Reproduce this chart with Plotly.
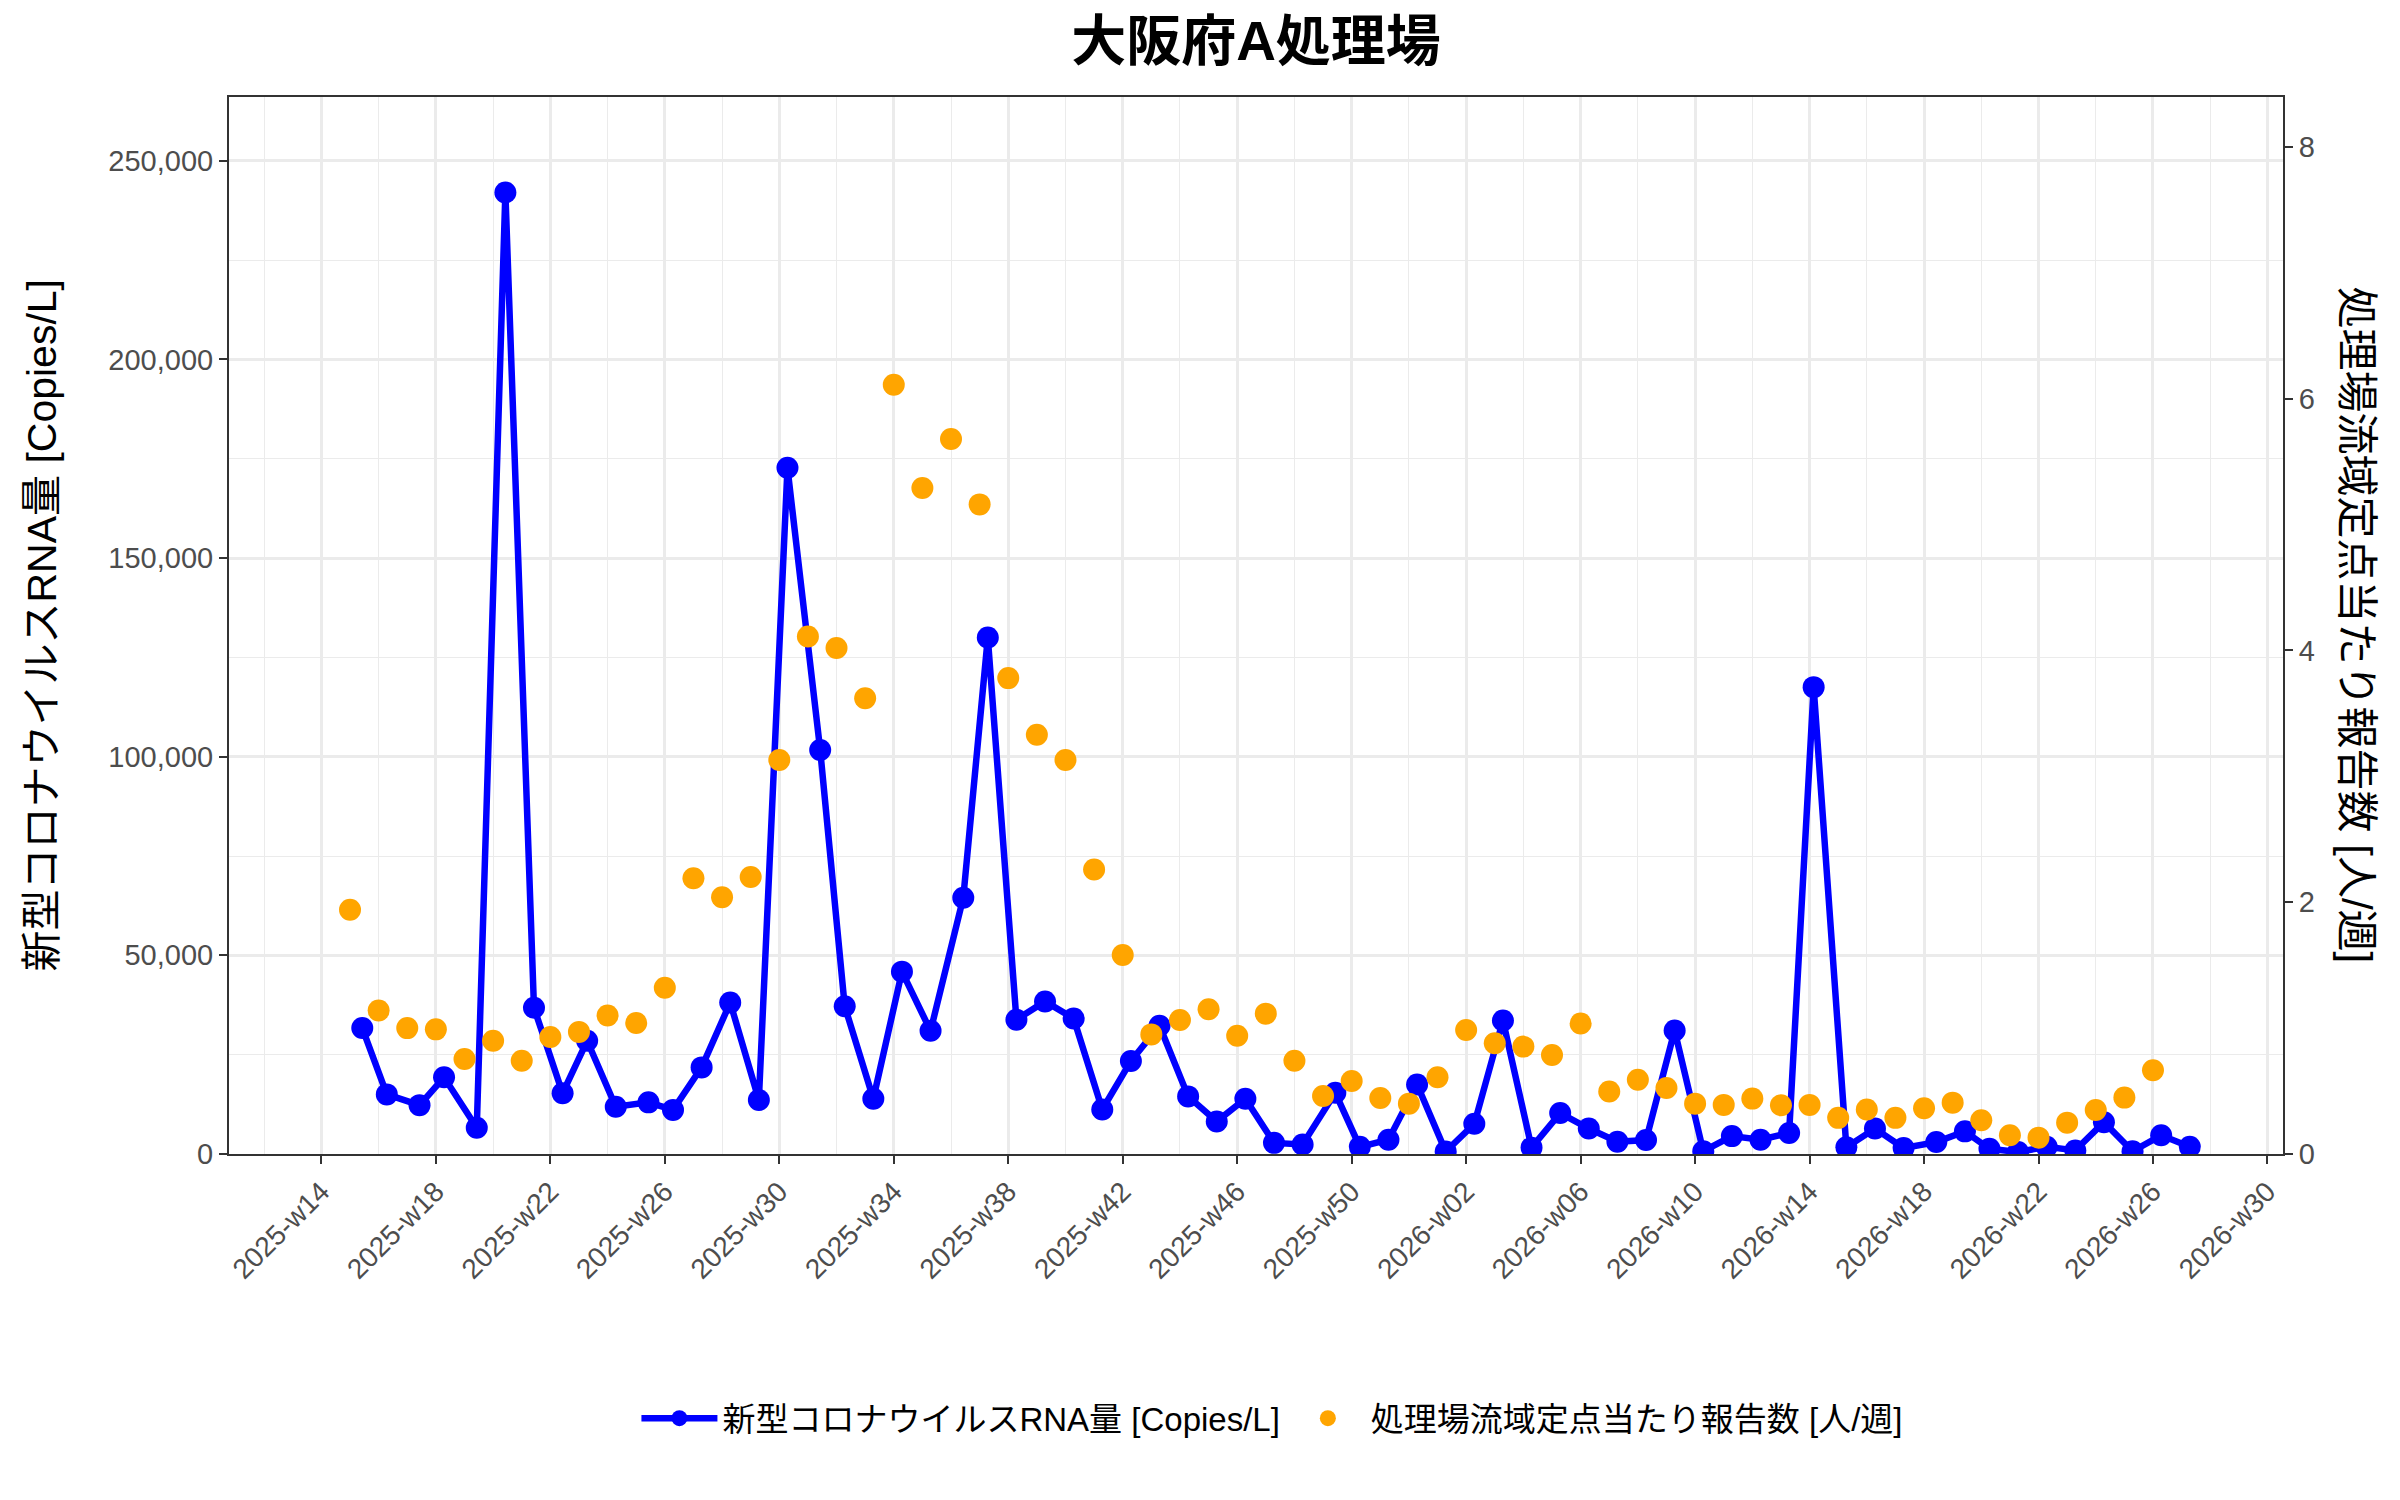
import pandas as pd
import plotly.graph_objects as go

# ---- data ----
rna_dates = [
    "2025-04-10", "2025-04-16", "2025-04-24", "2025-04-30", "2025-05-08", "2025-05-15",
    "2025-05-22", "2025-05-29", "2025-06-04", "2025-06-11", "2025-06-19", "2025-06-25",
    "2025-07-02", "2025-07-09", "2025-07-16", "2025-07-23", "2025-07-31", "2025-08-06",
    "2025-08-13", "2025-08-20", "2025-08-27", "2025-09-04", "2025-09-10", "2025-09-17",
    "2025-09-24", "2025-10-01", "2025-10-08", "2025-10-15", "2025-10-22", "2025-10-29",
    "2025-11-05", "2025-11-12", "2025-11-19", "2025-11-26", "2025-12-04", "2025-12-10",
    "2025-12-17", "2025-12-24", "2025-12-31", "2026-01-07", "2026-01-14", "2026-01-21",
    "2026-01-28", "2026-02-04", "2026-02-11", "2026-02-18", "2026-02-25", "2026-03-04",
    "2026-03-11", "2026-03-18", "2026-03-25", "2026-03-31", "2026-04-08", "2026-04-15",
    "2026-04-22", "2026-04-30", "2026-05-07", "2026-05-13", "2026-05-20", "2026-05-27",
    "2026-06-03", "2026-06-10", "2026-06-17", "2026-06-24", "2026-07-01",
]
rna_values = [
    31700, 15000, 12300, 19300, 6600, 242000,
    36800, 15300, 28500, 11900, 13000, 11100,
    21800, 38100, 13600, 172700, 101700, 37200,
    13900, 45900, 31000, 64500, 130000, 33800,
    38400, 34100, 11200, 23400, 32300, 14500,
    8200, 13900, 2800, 2400, 15400, 1800,
    3600, 17500, 600, 7600, 33600, 1600,
    10300, 6400, 3100, 3500, 31100, 700,
    4500, 3600, 5300, 117500, 1700, 6400,
    1500, 3000, 5700, 1300, 500, 1800,
    900, 8000, 700, 4700, 1800,
]

report_start = "2025-04-07"  # Monday of 2025-w15, one report per week
report_values = [
    1.94, 1.14, 1.00, 0.99, 0.755, 0.90, 0.74, 0.93, 0.97, 1.10,
    1.04, 1.32, 2.19, 2.04, 2.20, 3.13, 4.11, 4.02, 3.62, 6.11,
    5.29, 5.68, 5.16, 3.78, 3.33, 3.13, 2.26, 1.58, 0.95, 1.065,
    1.15, 0.94, 1.115, 0.74, 0.46, 0.58, 0.445, 0.40, 0.61, 0.985,
    0.88, 0.853, 0.787, 1.036, 0.496, 0.59, 0.525, 0.40, 0.39, 0.44,
    0.387, 0.39, 0.287, 0.353, 0.287, 0.363, 0.408, 0.268, 0.149, 0.13,
    0.249, 0.35, 0.448, 0.665,
]

week_tick_labels = [
    "2025-w14", "2025-w18", "2025-w22", "2025-w26", "2025-w30", "2025-w34",
    "2025-w38", "2025-w42", "2025-w46", "2025-w50", "2026-w02", "2026-w06",
    "2026-w10", "2026-w14", "2026-w18", "2026-w22", "2026-w26", "2026-w30",
]

title_text = "大阪府A処理場"
left_title = "新型コロナウイルスRNA量 [Copies/L]"
right_title = "処理場流域定点当たり報告数 [人/週]"

# ---- derived ----
report_dates = pd.date_range(report_start, periods=len(report_values), freq="7D")
tick_dates = pd.date_range("2025-03-31", periods=len(week_tick_labels), freq="28D")
x_start = pd.Timestamp("2025-03-31") - pd.Timedelta(days=22.6)
x_end = pd.Timestamp("2025-03-31") + pd.Timedelta(days=479.8)

FONT = "Liberation Sans, Arial, Noto Sans CJK JP, sans-serif"
GRID = "#EBEBEB"
AXIS = "#333333"
TICKC = "#4D4D4D"

fig = go.Figure()
fig.add_trace(go.Scatter(
    x=rna_dates, y=rna_values, mode="lines+markers", name=left_title,
    line=dict(color="#0000FF", width=6.5),
    marker=dict(color="#0000FF", size=22),
    yaxis="y",
))
fig.add_trace(go.Scatter(
    x=report_dates, y=report_values, mode="markers", name=right_title,
    marker=dict(color="#FFA500", size=22),
    yaxis="y2",
))

fig.update_layout(
    width=2400, height=1500,
    margin=dict(l=229, r=117, t=97, b=346),
    paper_bgcolor="white", plot_bgcolor="white",
    font=dict(family=FONT, color="black", size=28),
    title=dict(text="<b>" + title_text + "</b>", x=0.5, xref="paper", xanchor="center",
               y=0.9727, yref="container", yanchor="middle",
               font=dict(size=55, color="black", family=FONT)),
    showlegend=True,
    legend=dict(orientation="h", x=0.508, xanchor="center", y=-0.25, yanchor="middle",
                font=dict(size=33, color="black"), itemwidth=76,
                bgcolor="rgba(0,0,0,0)"),
    xaxis=dict(
        type="date", range=[x_start, x_end],
        tickmode="array", tickvals=tick_dates, ticktext=week_tick_labels,
        tickangle=-45, tickfont=dict(size=28, color=TICKC),
        ticks="outside", ticklen=8, tickwidth=2, tickcolor=AXIS,
        showgrid=True, gridcolor=GRID, gridwidth=2.6,
        minor=dict(tickmode="linear", tick0="2025-03-17", dtick=14 * 86400000,
                   showgrid=True, gridcolor=GRID, gridwidth=1.3, ticks=""),
        showline=True, linecolor=AXIS, linewidth=2, mirror=True,
        zeroline=False,
    ),
    yaxis=dict(
        range=[0, 266030], tickmode="linear", tick0=0, dtick=50000, tickformat=",",
        tickfont=dict(size=29, color=TICKC),
        ticks="outside", ticklen=8, tickwidth=2, tickcolor=AXIS,
        showgrid=True, gridcolor=GRID, gridwidth=2.6,
        minor=dict(tickmode="linear", tick0=25000, dtick=50000,
                   showgrid=True, gridcolor=GRID, gridwidth=1.3, ticks=""),
        showline=True, linecolor=AXIS, linewidth=2, mirror=True,
        zeroline=False,
    ),
    yaxis2=dict(
        overlaying="y", side="right", range=[0, 8.396],
        tickmode="linear", tick0=0, dtick=2,
        tickfont=dict(size=29, color=TICKC),
        ticks="outside", ticklen=8, tickwidth=2, tickcolor=AXIS,
        showgrid=False, zeroline=False,
        showline=True, linecolor=AXIS, linewidth=2,
    ),
    annotations=[
        dict(text=left_title, xref="paper", yref="paper", x=-0.0915, y=0.5,
             xanchor="center", yanchor="middle", textangle=-90, showarrow=False,
             font=dict(size=41, color="black", family=FONT)),
        dict(text=right_title, xref="paper", yref="paper", x=1.036, y=0.5,
             xanchor="center", yanchor="middle", textangle=90, showarrow=False,
             font=dict(size=42, color="black", family=FONT)),
    ],
)

fig.write_html("out.html")
